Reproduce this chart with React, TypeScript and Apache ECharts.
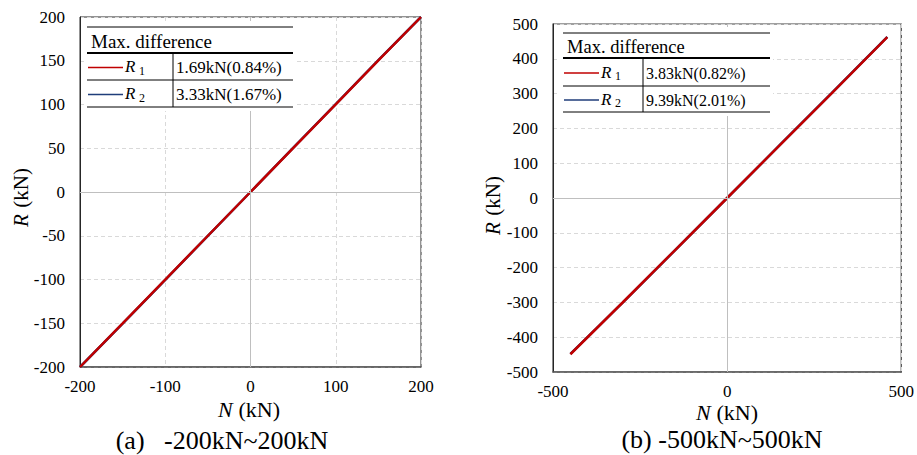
import React, { useEffect, useRef } from "react";
import * as echarts from "echarts";

const FONT = "Liberation Serif";

// Left panel (a): -200kN ~ 200kN
const nA = [-200, -150, -100, -50, 0, 50, 100, 150, 200];
const r1A = [-200, -150.2, -100.1, -50.0, 0, 50.1, 100.2, 150.3, 200];
const r2A = [-200, -150.4, -100.3, -50.2, 0, 50.3, 100.5, 150.6, 200];
const tableA = ["1.69kN(0.84%)", "3.33kN(1.67%)"];

// Right panel (b): -500kN ~ 500kN
const nB = [-450, -300, -150, 0, 150, 300, 460];
const r1B = [-449, -300.3, -150.2, 0, 150.4, 300.5, 462];
const r2B = [-448, -300.8, -150.6, 0, 150.9, 301.2, 463];
const tableB = ["3.83kN(0.82%)", "9.39kN(2.01%)"];

const seriesNames = ["R1", "R2"];
const headerText = "Max. difference";
const captions = ["(a)   -200kN~200kN", "(b) -500kN~500kN"];

const RED = "#c00000";
const BLUE = "#1f3d7a";

function zip(a: number[], b: number[]) {
  return a.map((v, i) => [v, b[i]]);
}

function txt(size: number, extra: any = {}) {
  return { fontFamily: FONT, fontSize: size, fill: "#000", ...extra };
}

function tableGraphics(
  x0: number,
  x1: number,
  xd: number,
  yTop: number,
  yHead: number,
  yRow: number,
  yBot: number,
  values: string[],
  headSize: number,
  valSize: number
) {
  const els: any[] = [];
  els.push({
    type: "rect",
    shape: { x: x0 - 3, y: yTop - 6, width: x1 - x0 + 6, height: yBot - yTop + 10 },
    style: { fill: "#fff" },
    z: 100,
  });
  const hl = (y: number, w: number) =>
    els.push({
      type: "line",
      shape: { x1: x0, y1: y, x2: x1, y2: y },
      style: { stroke: "#000", lineWidth: w },
      z: 101,
    });
  hl(yTop, 1);
  hl(yHead, 2);
  hl(yRow, 1);
  hl(yBot, 1);
  els.push({
    type: "line",
    shape: { x1: xd, y1: yHead, x2: xd, y2: yBot },
    style: { stroke: "#000", lineWidth: 1 },
    z: 101,
  });
  els.push({
    type: "text",
    x: x0 + 4,
    y: (yTop + yHead) / 2 + 1,
    style: { text: headerText, ...txt(headSize), verticalAlign: "middle", align: "left" },
    z: 102,
  });
  const rows = [
    { y: (yHead + yRow) / 2, color: RED, sub: "1", val: values[0] },
    { y: (yRow + yBot) / 2, color: BLUE, sub: "2", val: values[1] },
  ];
  rows.forEach((r) => {
    els.push({
      type: "line",
      shape: { x1: x0 + 1, y1: r.y + 1, x2: x0 + 36, y2: r.y + 1 },
      style: { stroke: r.color, lineWidth: 1.3 },
      z: 103,
    });
    els.push({
      type: "text",
      x: x0 + 38,
      y: r.y,
      style: { text: "R", ...txt(17, { fontStyle: "italic" }), verticalAlign: "middle", align: "left" },
      z: 102,
    });
    els.push({
      type: "text",
      x: x0 + 52,
      y: r.y + 4,
      style: { text: r.sub, ...txt(12), verticalAlign: "middle", align: "left" },
      z: 102,
    });
    els.push({
      type: "text",
      x: xd + 3,
      y: r.y + 1,
      style: { text: r.val, ...txt(valSize), verticalAlign: "middle", align: "left" },
      z: 102,
    });
  });
  return els;
}

function yName(cx: number, cy: number) {
  // rotated "R (kN)" with italic R, built from two plain texts in a rotated group
  return {
    type: "group",
    x: cx,
    y: cy,
    rotation: Math.PI / 2,
    children: [
      {
        type: "text",
        x: -30,
        y: 0,
        style: { text: "R", ...txt(21, { fontStyle: "italic" }), align: "left", verticalAlign: "middle" },
      },
      {
        type: "text",
        x: -16,
        y: 0,
        style: { text: " (kN)", ...txt(21), align: "left", verticalAlign: "middle" },
      },
    ],
  };
}

export default function App() {
  const ref = useRef<HTMLDivElement>(null);
  useEffect(() => {
    if (!ref.current) return;
    const chart = echarts.init(ref.current, undefined, { renderer: "svg" });
    const axisLabel = {
      fontFamily: FONT,
      fontSize: 17,
      color: "#000",
      formatter: (v: number) => String(v),
    };
    const splitLine = { show: true, lineStyle: { color: "#d9d9d9", type: [4, 3] as any, width: 1 } };
    const zeroMark = {
      silent: true,
      symbol: ["none", "none"],
      label: { show: false },
      lineStyle: { color: "#bfbfbf", type: "solid", width: 1 },
      data: [{ xAxis: 0 }, { yAxis: 0 }],
    };
    const axisLineX = { show: true, onZero: false, lineStyle: { color: "#595959", width: 1.5 } };
    const axisLineY = { show: true, onZero: false, lineStyle: { color: "#262626", width: 1 } };
    const xNameGraphic = (cx: number, cy: number) => ({
      type: "group",
      x: cx,
      y: cy,
      children: [
        {
          type: "text",
          x: -32,
          y: 0,
          style: { text: "N", ...txt(22, { fontStyle: "italic" }), align: "left", verticalAlign: "middle" },
        },
        {
          type: "text",
          x: -17,
          y: 0,
          style: { text: " (kN)", ...txt(22), align: "left", verticalAlign: "middle" },
        },
      ],
    });
    chart.setOption({
      animation: false,
      textStyle: { fontFamily: FONT },
      grid: [
        { left: 80, top: 17, width: 341, height: 350, show: true, borderColor: "#262626", borderWidth: 1 },
        { left: 553, top: 24, width: 350, height: 348, show: true, borderColor: "#404040", borderWidth: 1.2 },
      ],
      xAxis: [
        {
          gridIndex: 0, type: "value", min: -200, max: 200, interval: 100,
          axisLine: axisLineX, axisTick: { show: false },
          axisLabel: { ...axisLabel, margin: 11 }, splitLine,
        },
        {
          gridIndex: 1, type: "value", min: -500, max: 500, interval: 500,
          axisLine: axisLineX, axisTick: { show: false },
          axisLabel: { ...axisLabel, margin: 11 }, splitLine,
        },
      ],
      yAxis: [
        {
          gridIndex: 0, type: "value", min: -200, max: 200, interval: 50,
          axisLine: axisLineY, axisTick: { show: false },
          axisLabel: { ...axisLabel, margin: 15 }, splitLine,
        },
        {
          gridIndex: 1, type: "value", min: -500, max: 500, interval: 100,
          axisLine: axisLineY, axisTick: { show: false },
          axisLabel: { ...axisLabel, margin: 15 }, splitLine,
        },
      ],
      series: [
        {
          name: seriesNames[1], type: "line", xAxisIndex: 0, yAxisIndex: 0,
          data: zip(nA, r2A), symbol: "none", lineStyle: { color: BLUE, width: 2.5 }, z: 3,
          markLine: zeroMark,
        },
        {
          name: seriesNames[0], type: "line", xAxisIndex: 0, yAxisIndex: 0,
          data: zip(nA, r1A), symbol: "none", lineStyle: { color: RED, width: 2.5 }, z: 4,
        },
        {
          name: seriesNames[1], type: "line", xAxisIndex: 1, yAxisIndex: 1,
          data: zip(nB, r2B), symbol: "none", lineStyle: { color: BLUE, width: 2.5 }, z: 3,
          markLine: zeroMark,
        },
        {
          name: seriesNames[0], type: "line", xAxisIndex: 1, yAxisIndex: 1,
          data: zip(nB, r1B), symbol: "none", lineStyle: { color: RED, width: 2.5 }, z: 4,
        },
      ],
      graphic: [
        ...tableGraphics(87, 293, 173, 27, 53, 80, 107, tableA, 19, 17),
        ...tableGraphics(563, 770, 643, 33, 58, 86, 112, tableB, 18.5, 16),
        yName(21, 197),
        yName(493, 205),
        xNameGraphic(250, 409),
        xNameGraphic(728, 412),
        {
          type: "text", x: 222, y: 440,
          style: { text: captions[0], ...txt(26), align: "center", verticalAlign: "middle" },
        },
        {
          type: "text", x: 722, y: 439,
          style: { text: captions[1], ...txt(26), align: "center", verticalAlign: "middle" },
        },
      ],
    });
    return () => chart.dispose();
  }, []);
  return (
    <div
      ref={ref}
      style={{ position: "absolute", left: 0, top: 0, width: 917, height: 455, background: "#fff" }}
    />
  );
}
